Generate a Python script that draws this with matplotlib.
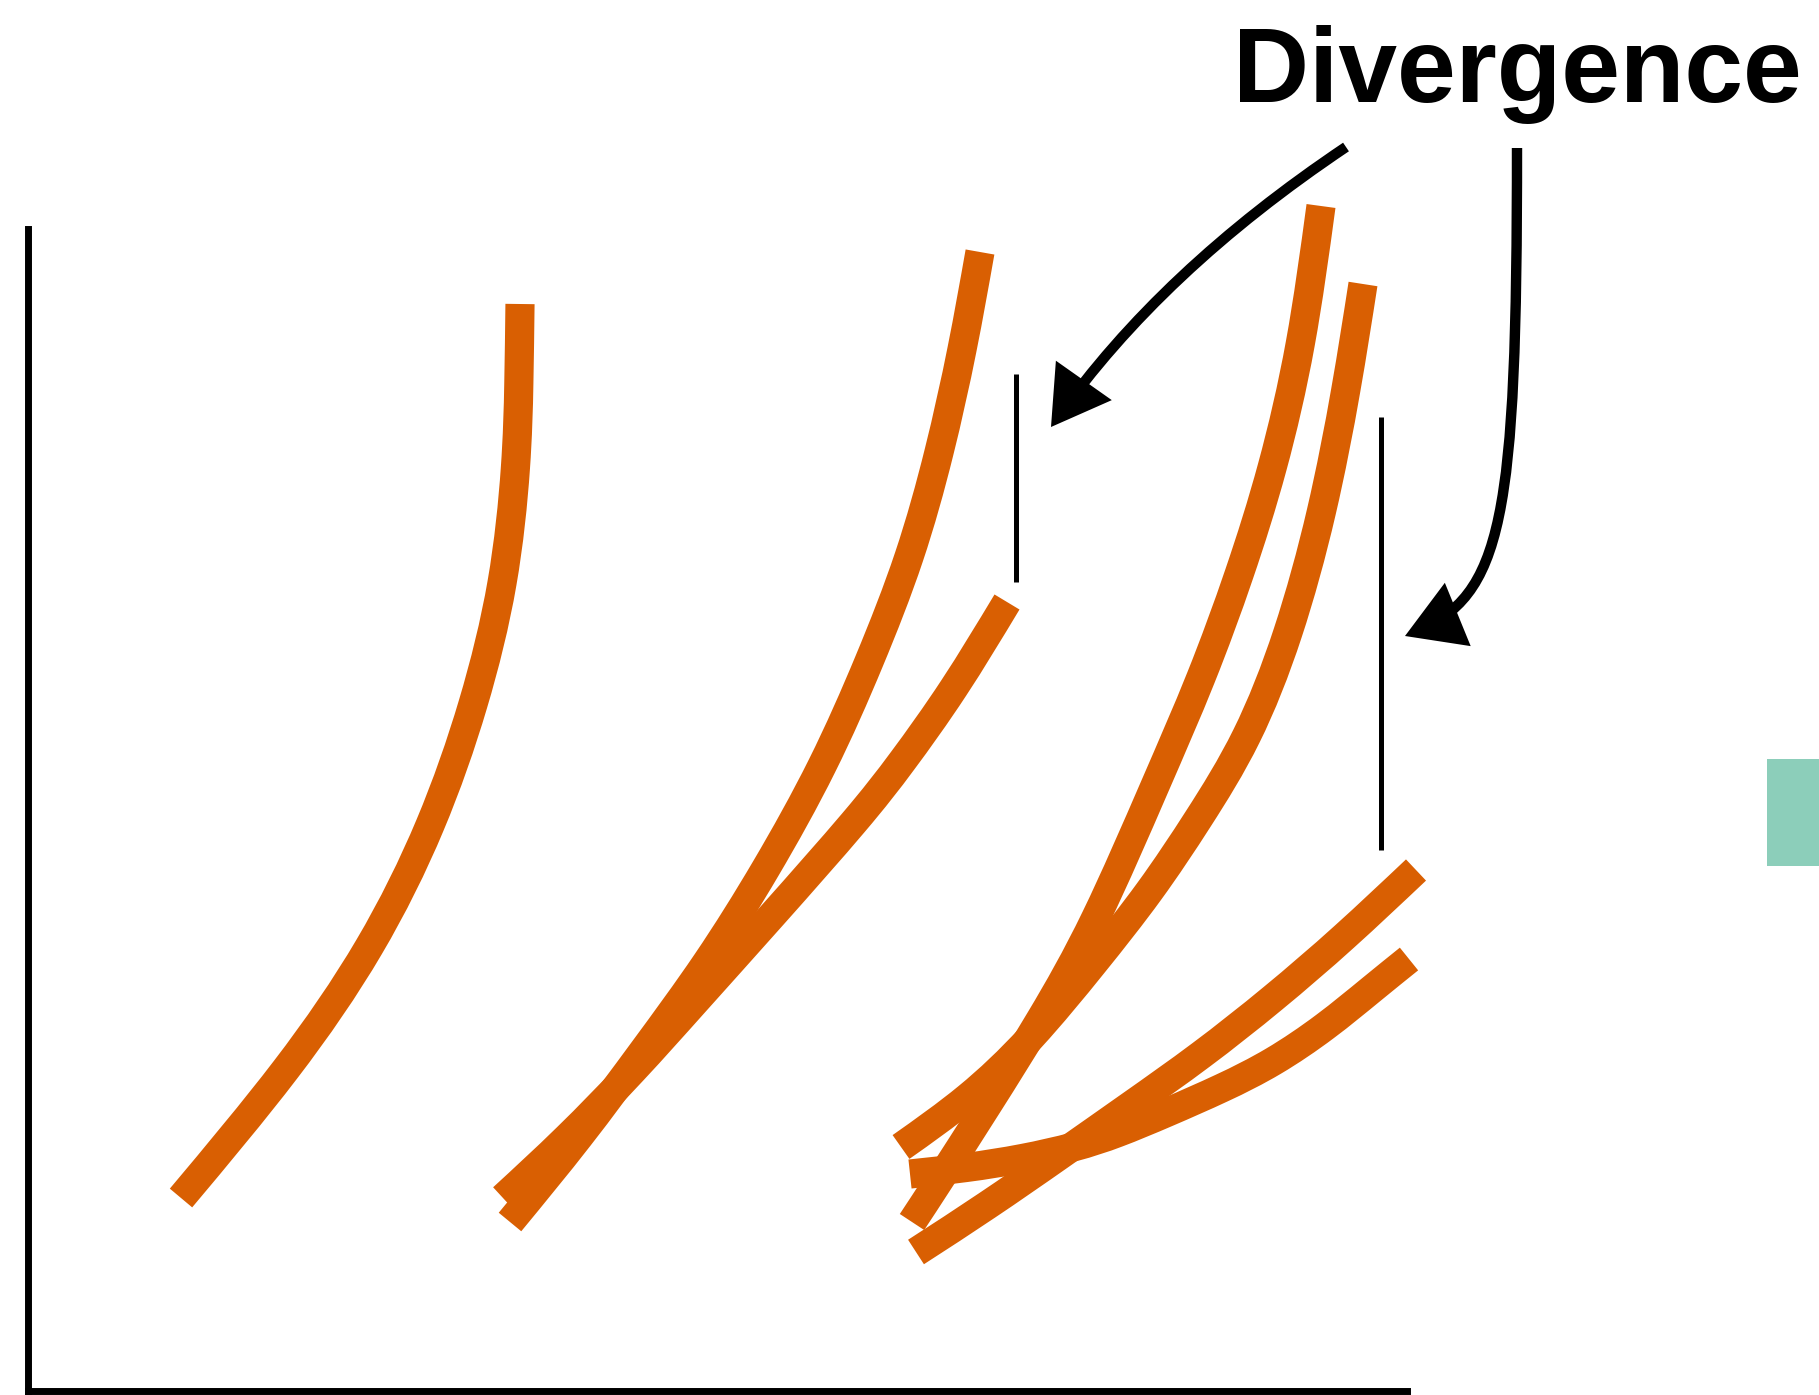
import matplotlib
matplotlib.use("Agg")
import matplotlib.pyplot as plt
from matplotlib.patches import FancyArrowPatch, Rectangle, PathPatch
from matplotlib.path import Path

# ---- data ----
curve_a_x = [4.92, 4.91, 4.89, 4.77, 4.47, 4.05, 3.45, 2.62, 1.53]
curve_a_y = [10.87, 10.08, 9.29, 8.08, 6.87, 5.66, 4.44, 3.23, 1.93]

curve_b_x = [9.52, 9.35, 9.12, 8.83, 8.42, 7.96, 7.38, 6.80, 6.16, 5.52, 4.82]
curve_b_y = [11.39, 10.43, 9.39, 8.34, 7.30, 6.25, 5.21, 4.28, 3.41, 2.54, 1.69]

curve_c_x = [9.79, 9.26, 8.72, 8.34, 7.43, 6.63, 6.07, 5.38, 4.75]
curve_c_y = [7.89, 7.01, 6.26, 5.77, 4.74, 3.85, 3.22, 2.51, 1.93]

curve_d_x = [12.93, 12.74, 12.45, 12.12, 11.74, 11.29, 10.66, 10.13, 9.59, 9.09, 8.84]
curve_d_y = [11.85, 10.45, 9.21, 8.17, 7.13, 6.10, 4.64, 3.71, 2.85, 2.07, 1.69]

curve_e_x = [13.35, 13.19, 12.95, 12.61, 12.20, 11.70, 11.23, 10.66, 10.02, 9.41, 8.73]
curve_e_y = [11.07, 10.04, 8.79, 7.55, 6.51, 5.71, 5.00, 4.28, 3.50, 2.92, 2.44]

curve_f_x = [13.88, 13.16, 12.45, 11.73, 11.02, 10.31, 9.59, 8.88]
curve_f_y = [5.21, 4.53, 3.92, 3.35, 2.85, 2.35, 1.85, 1.39]

curve_g_x = [8.82, 9.38, 9.95, 10.48, 10.88, 11.38, 11.95, 12.45, 12.98, 13.45, 13.81]
curve_g_y = [2.17, 2.23, 2.32, 2.44, 2.57, 2.78, 3.03, 3.28, 3.64, 4.03, 4.32]

marker_x = [9.88, 13.53]
marker_y_low = [8.09, 5.41]
marker_y_high = [10.17, 9.74]

label_text = "Divergence"

ORANGE = "#d95f02"
TEAL = "#1b9e77"


def bspline_path(xs, ys):
    """Uniform cubic B-spline using the traced points as control points (end points
    reflected so the curve starts/ends exactly on them), as a Bezier Path."""
    P = list(zip(xs, ys))
    first = (2 * P[0][0] - P[1][0], 2 * P[0][1] - P[1][1])
    last = (2 * P[-1][0] - P[-2][0], 2 * P[-1][1] - P[-2][1])
    Q = [first] + P + [last]
    verts = []
    codes = []
    for j in range(len(Q) - 3):
        q0, q1, q2, q3 = Q[j:j + 4]
        b0 = ((q0[0] + 4 * q1[0] + q2[0]) / 6, (q0[1] + 4 * q1[1] + q2[1]) / 6)
        b1 = ((2 * q1[0] + q2[0]) / 3, (2 * q1[1] + q2[1]) / 3)
        b2 = ((q1[0] + 2 * q2[0]) / 3, (q1[1] + 2 * q2[1]) / 3)
        b3 = ((q1[0] + 4 * q2[0] + q3[0]) / 6, (q1[1] + 4 * q2[1] + q3[1]) / 6)
        if not verts:
            verts.append(b0)
            codes.append(Path.MOVETO)
        verts += [b1, b2, b3]
        codes += [Path.CURVE4] * 3
    return Path(verts, codes)


# ---- figure ----
W, H = 1819, 1395
fig = plt.figure(figsize=(W / 100, H / 100), dpi=100)
ax = fig.add_axes([28 / W, 4 / H, 1379 / W, 1162 / H])
ax.set_xlim(0, 13.79)
ax.set_ylim(0, 11.62)
for side in ["top", "right"]:
    ax.spines[side].set_visible(False)
for side in ["left", "bottom"]:
    ax.spines[side].set_linewidth(5)
    ax.spines[side].set_color("black")
ax.set_xticks([])
ax.set_yticks([])
ax.patch.set_alpha(0)

curves = [
    (curve_a_x, curve_a_y),
    (curve_b_x, curve_b_y),
    (curve_c_x, curve_c_y),
    (curve_d_x, curve_d_y),
    (curve_e_x, curve_e_y),
    (curve_f_x, curve_f_y),
    (curve_g_x, curve_g_y),
]
for cx, cy in curves:
    ax.add_patch(PathPatch(bspline_path(cx, cy), fill=False, edgecolor=ORANGE,
                           lw=21, capstyle="butt", joinstyle="round",
                           clip_on=False, zorder=2))

ax.vlines(marker_x, marker_y_low, marker_y_high, colors="black", lw=3.6,
          zorder=3, clip_on=False)

# curved arrows pointing from the label to the markers
arrow1 = Path([(13.18, 12.44), (11.33, 11.20), (10.23, 9.64)],
              [Path.MOVETO, Path.CURVE3, Path.CURVE3])
arrow2 = Path([(14.89, 12.43), (14.89, 8.71), (14.75, 7.95), (13.77, 7.55)],
              [Path.MOVETO, Path.CURVE4, Path.CURVE4, Path.CURVE4])
for p in (arrow1, arrow2):
    fa = FancyArrowPatch(path=p, arrowstyle="-|>,head_length=30,head_width=18",
                         mutation_scale=1, lw=7.5, color="black",
                         joinstyle="miter", capstyle="butt",
                         transform=ax.transData, clip_on=False, zorder=4)
    ax.add_patch(fa)

fig.text(1517 / W, 1 - 102 / H, label_text, ha="center", va="baseline",
         fontsize=76, fontweight="bold", family=["Liberation Sans", "DejaVu Sans"])

# partially visible legend swatch at the right edge
fig.patches.append(Rectangle((1767 / W, 1 - 866 / H), 80 / W, 107 / H,
                             transform=fig.transFigure, facecolor=TEAL,
                             alpha=0.5, edgecolor="none"))

fig.savefig("out.png", dpi=100)
